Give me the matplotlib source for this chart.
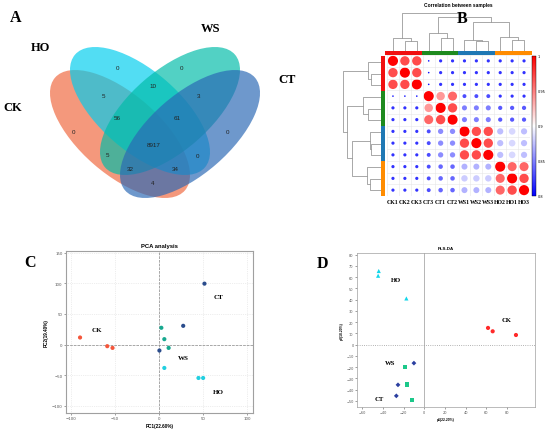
import numpy as np
import matplotlib
matplotlib.use('Agg')
import matplotlib.pyplot as plt
from matplotlib.patches import Ellipse
from matplotlib.colors import LinearSegmentedColormap, Normalize, ListedColormap
import matplotlib.cm as cm

W, H = 550, 431
SERIF = 'Liberation Serif'
SANS = 'Liberation Sans'


def px(l, t, r, b):
    # pixel box (left, top, right, bottom) -> figure fraction rect
    return [l / W, 1 - b / H, (r - l) / W, (b - t) / H]


# ---------------- data ----------------
venn_sets = ['CK', 'HO', 'WS', 'CT']
venn_regions = ['CK', 'HO', 'WS', 'CT', 'CK&HO', 'HO&WS', 'WS&CT', 'CK&HO&WS',
                'HO&WS&CT', 'CK&HO&WS&CT', 'CK&WS', 'HO&CT', 'CK&WS&CT',
                'CK&HO&CT', 'CK&CT']
venn_counts = [0, 0, 0, 0, 5, 10, 3, 56, 61, 8917, 5, 0, 32, 34, 4]

samples = ['CK1', 'CK2', 'CK3', 'CT3', 'CT1', 'CT2',
           'WS1', 'WS2', 'WS3', 'HO2', 'HO1', 'HO3']
sample_groups = ['CK'] * 3 + ['CT'] * 3 + ['WS'] * 3 + ['HO'] * 3
corr = np.array([
    [1.00, 0.97, 0.97, 0.805, 0.82, 0.82, 0.82, 0.82, 0.82, 0.82, 0.82, 0.82],
    [0.97, 1.00, 0.97, 0.805, 0.82, 0.82, 0.82, 0.82, 0.82, 0.82, 0.82, 0.82],
    [0.97, 0.97, 1.00, 0.805, 0.82, 0.82, 0.82, 0.82, 0.82, 0.82, 0.82, 0.82],
    [0.805, 0.805, 0.805, 1.00, 0.94, 0.96, 0.83, 0.83, 0.83, 0.82, 0.82, 0.82],
    [0.82, 0.82, 0.82, 0.94, 1.00, 0.97, 0.85, 0.85, 0.85, 0.835, 0.835, 0.835],
    [0.82, 0.82, 0.82, 0.96, 0.97, 1.00, 0.85, 0.85, 0.85, 0.835, 0.835, 0.835],
    [0.82, 0.82, 0.82, 0.83, 0.855, 0.855, 1.00, 0.97, 0.97, 0.875, 0.885, 0.875],
    [0.82, 0.82, 0.82, 0.83, 0.855, 0.855, 0.97, 1.00, 0.97, 0.875, 0.885, 0.875],
    [0.82, 0.82, 0.82, 0.83, 0.855, 0.855, 0.97, 0.97, 1.00, 0.875, 0.885, 0.875],
    [0.82, 0.82, 0.82, 0.83, 0.84, 0.84, 0.87, 0.87, 0.87, 1.00, 0.96, 0.96],
    [0.82, 0.82, 0.82, 0.83, 0.84, 0.84, 0.88, 0.88, 0.88, 0.96, 1.00, 0.97],
    [0.82, 0.82, 0.82, 0.83, 0.84, 0.84, 0.87, 0.87, 0.87, 0.96, 0.97, 1.00],
])
corr_ticks = [1, 0.95, 0.9, 0.85, 0.8]
# hierarchical merges (node a, node b, height) in leaf order
merges = [(1, 2, 10), (0, 12, 13), (4, 5, 13), (3, 14, 18), (7, 8, 10),
          (6, 16, 11), (10, 11, 11), (9, 18, 14), (17, 19, 29.5),
          (15, 20, 34.5), (13, 21, 38)]

pca_x = {'CK': [-90, -59, -53], 'CT': [51.7, 27.5, 0.4],
         'WS': [2.6, 6.0, 10.9], 'HO': [6.0, 44.9, 50.2]}
pca_y = {'CK': [11.5, -2.7, -5.5], 'CT': [99.6, 30.6, -9.8],
         'WS': [27.4, 8.8, -5.5], 'HO': [-38.3, -54.7, -54.7]}

pls_x = {'HO': [-44, -44.6, -17.3], 'CK': [61.6, 66.1, 88.6],
         'WS': [-18.6, -16.4, -11.6], 'CT': [-10, -25.4, -27]}
pls_y = {'HO': [65.5, 61.3, 41.1], 'CK': [14.9, 11.9, 8.6],
         'WS': [-19.6, -35.4, -49.1], 'CT': [-16.4, -35.7, -45.5]}

fig = plt.figure(figsize=(5.5, 4.31), dpi=100)


def letter(x, y, s, size=11.5):
    fig.text(x / W, 1 - y / H, s, fontsize=size, fontweight='bold',
             family=SERIF, ha='center', va='center')


# ---------------- A: Venn ----------------
axa = fig.add_axes(px(0, 0, 320, 215))
axa.set_xlim(0, 320)
axa.set_ylim(215, 0)
axa.axis('off')
ell = {'CK': ((120, 135), 41, '#F0683E'), 'HO': ((140, 112), 41, '#00CDEE'),
       'WS': ((170, 112), -41, '#00BCA8'), 'CT': ((190, 135), -41, '#2A68B5')}
for s in venn_sets:
    c, ang, col = ell[s]
    axa.add_patch(Ellipse(c, 172, 80, angle=ang, facecolor=col, alpha=0.68,
                          edgecolor='none'))
region_pos = [(73, 133), (118, 68), (182, 68), (227, 133), (103, 97), (153, 87),
              (199, 97), (117, 119), (177, 119), (154, 146), (107, 156),
              (198, 157), (130, 170), (175, 170), (153, 184)]
for (x, y), n in zip(region_pos, venn_counts):
    axa.text(x, y, str(n), fontsize=4.5, family=SANS, ha='center', va='center',
             color='#222222')
letter(16, 18, 'A')
for s, (x, y) in zip(venn_sets, [(13, 108), (40, 48), (211, 29), (287, 80)]):
    letter(x, y, s, 9)

# ---------------- B: correlation ----------------
cmap = LinearSegmentedColormap.from_list('bwr2', ['#0000FF', '#FFFFFF', '#FF0000'])
norm = Normalize(0.8, 1.0)
group_colors = {'CK': '#F01010', 'CT': '#1E8A1E', 'WS': '#1F78B4', 'HO': '#FF8C00'}

axb = fig.add_axes(px(387, 56, 530, 197))
n = len(samples)
xx, yy = np.meshgrid(np.arange(n) + 0.5, np.arange(n) + 0.5)
cell_pt = (530 - 387) / n * 0.72
diam = 0.85 * np.sqrt((corr - 0.8) / 0.2) * cell_pt
axb.scatter(xx.ravel(), yy.ravel(), s=(diam ** 2).ravel(),
            c=corr.ravel(), cmap=cmap, norm=norm, edgecolors='none')
axb.set_xlim(0, n)
axb.set_ylim(n, 0)
axb.set_xticks(np.arange(n + 1), minor=True)
axb.set_yticks(np.arange(n + 1), minor=True)
axb.grid(which='minor', color='#E6E6E6', lw=0.4)
axb.set_xticks(np.arange(n) + 0.5)
axb.set_xticklabels(samples, family=SERIF, fontsize=4.2, fontweight='bold')
axb.set_yticks([])
axb.tick_params(axis='both', which='both', length=0, pad=2)
for sp in axb.spines.values():
    sp.set_visible(False)

grp_idx = [list(group_colors).index(g) for g in sample_groups]
gcmap = ListedColormap(list(group_colors.values()))
axt = fig.add_axes(px(385, 52, 532, 55.5))
axt.imshow([grp_idx], cmap=gcmap, vmin=-0.5, vmax=3.5, aspect='auto')
axt.axis('off')
axl = fig.add_axes(px(381, 57, 385, 197))
axl.imshow(np.array([grp_idx]).T, cmap=gcmap, vmin=-0.5, vmax=3.5, aspect='auto')
axl.axis('off')

pos = {i: i + 0.5 for i in range(n)}
hgt = {i: 0.0 for i in range(n)}
segs = []
for k, (a, b, h) in enumerate(merges):
    segs.append(([pos[a], pos[a], pos[b], pos[b]], [hgt[a], h, h, hgt[b]]))
    pos[n + k] = (pos[a] + pos[b]) / 2
    hgt[n + k] = h

axdt = fig.add_axes(px(387, 14, 530, 52))
axdl = fig.add_axes(px(343, 57, 381, 197))
for xs, hs in segs:
    axdt.plot(xs, hs, color='#9A9A9A', lw=0.6)
    axdl.plot(hs, xs, color='#9A9A9A', lw=0.6)
axdt.set_xlim(0, n)
axdt.set_ylim(0, 38)
axdl.set_ylim(n, 0)
axdl.set_xlim(38, 0)
axdt.axis('off')
axdl.axis('off')

cax = fig.add_axes(px(531.5, 57, 536, 197))
cb = fig.colorbar(cm.ScalarMappable(norm=norm, cmap=cmap), cax=cax)
cb.set_ticks(corr_ticks)
cb.set_ticklabels([str(t) for t in corr_ticks])
cb.ax.tick_params(labelsize=2.5, length=0, pad=1)
cb.outline.set_linewidth(0.3)
fig.text(458 / W, 1 - 6 / H, 'Correlation between samples', fontsize=3.5,
         family=SANS, fontweight='bold', ha='center', va='center')
letter(462, 19, 'B')


def style_scatter_axes(ax, size):
    ax.tick_params(labelsize=size, length=1.5, width=0.4, pad=1,
                   colors='#555555')
    for sp in ax.spines.values():
        sp.set_color('#A0A0A0')
        sp.set_linewidth(0.8)


# ---------------- C: PCA ----------------
pca_colors = {'CK': '#F4563B', 'CT': '#2A4C8C', 'WS': '#17A88F', 'HO': '#22CFE0'}
axc = fig.add_axes(px(66, 252, 253, 414))
for g in pca_colors:
    axc.scatter(pca_x[g], pca_y[g], s=9, color=pca_colors[g], zorder=3,
                edgecolors='none')
axc.set_xlim(-106, 107)
axc.set_ylim(-112, 153)
axc.set_xticks([-100, -50, 0, 50, 100])
axc.set_yticks([-100, -50, 0, 50, 100, 150])
axc.grid(True, linestyle=':', color='#DDDDDD', lw=0.5)
axc.axhline(0, color='#888888', ls='--', lw=0.5)
axc.axvline(0, color='#888888', ls='--', lw=0.5)
style_scatter_axes(axc, 2.8)
axc.set_title('PCA analysis', fontsize=4.2, family=SANS, fontweight='bold', pad=3)
axc.set_xlabel('PC1(22.60%)', fontsize=3.3, family=SANS, fontweight='bold',
               labelpad=1.5)
axc.set_ylabel('PC2(19.40%)', fontsize=3.3, family=SANS, fontweight='bold',
               labelpad=2)
for g, (x, y) in zip(['CT', 'CK', 'WS', 'HO'],
                     [(68, 78), (-71, 24), (28, -21), (67, -77)]):
    axc.text(x, y, g, fontsize=5, family=SERIF, fontweight='bold',
             ha='center', va='center')
letter(30, 263, 'C')

# ---------------- D: PLS-DA ----------------
pls_style = {'HO': ('#12D6EA', '^'), 'CK': ('#FF2A2A', 'o'),
             'WS': ('#1CC88A', 's'), 'CT': ('#2B3FA0', 'D')}
axd = fig.add_axes(px(357, 254, 535, 408))
for g, (col, mk) in pls_style.items():
    axd.scatter(pls_x[g], pls_y[g], s=9 if mk != 'D' else 6, color=col,
                marker=mk, zorder=3, edgecolors='none')
axd.set_xlim(-65, 107)
axd.set_ylim(-55.4, 81.5)
axd.set_xticks(np.arange(-60, 81, 20))
axd.set_yticks(np.arange(-50, 81, 10))
axd.axvline(0, color='#999999', lw=0.5)
axd.axhline(0, color='#999999', ls=':', lw=0.6)
style_scatter_axes(axd, 2.5)
for sp in axd.spines.values():
    sp.set_linewidth(0.5)
axd.set_title('PLS-DA', fontsize=3.2, family=SANS, fontweight='bold', pad=3)
axd.set_xlabel('p1(22.20%)', fontsize=2.4, family=SANS, fontweight='bold',
               labelpad=1.5)
axd.set_ylabel('p2(18.20%)', fontsize=2.4, family=SANS, fontweight='bold',
               labelpad=1.5)
for g, (x, y) in zip(['HO', 'CK', 'WS', 'CT'],
                     [(-27, 57.7), (79.6, 22), (-32.7, -16), (-43.3, -48)]):
    axd.text(x, y, g, fontsize=4.8, family=SERIF, fontweight='bold',
             ha='center', va='center')
letter(322, 264, 'D')

fig.savefig('out.png', dpi=100)
